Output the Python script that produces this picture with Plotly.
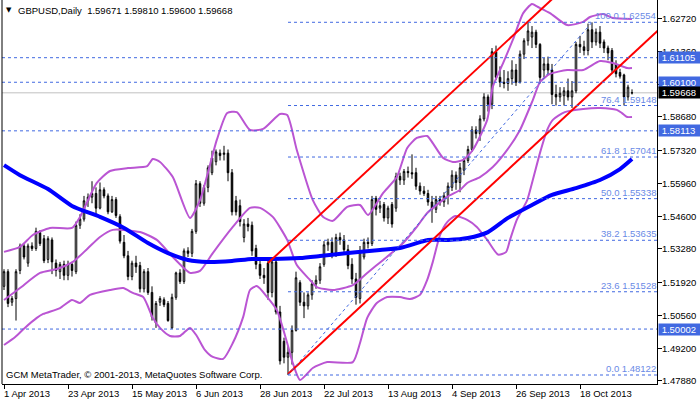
import plotly.graph_objects as go

# ---------------- data ----------------
open_ = [1.5175,1.5235,1.5110,1.5125,1.5240,1.5340,1.5270,1.5340,1.5330,1.5395,
         1.5370,1.5285,1.5365,1.5270,1.5235,1.5265,1.5220,1.5265,1.5235,1.5425,
         1.5450,1.5525,1.5540,1.5555,1.5495,1.5570,1.5545,1.5480,1.5530,1.5460,
         1.5355,1.5300,1.5215,1.5270,1.5260,1.5165,1.5235,1.5150,1.5025,1.5110,
         1.5120,1.5105,1.5005,1.5130,1.5230,1.5195,1.5320,1.5310,1.5400,1.5595,
         1.5515,1.5580,1.5640,1.5685,1.5720,1.5715,1.5720,1.5640,1.5525,1.5505,
         1.5375,1.5430,1.5425,1.5330,1.5265,1.5220,1.5270,1.5150,1.5275,1.5070,
         1.4950,1.4885,1.4905,1.4995,1.5190,1.5110,1.5095,1.5140,1.5185,1.5200,
         1.5265,1.5345,1.5355,1.5310,1.5375,1.5365,1.5325,1.5265,1.5205,1.5125,
         1.5295,1.5355,1.5350,1.5535,1.5495,1.5510,1.5455,1.5510,1.5495,1.5625,
         1.5610,1.5645,1.5640,1.5640,1.5585,1.5565,1.5555,1.5520,1.5490,1.5530,
         1.5520,1.5545,1.5580,1.5630,1.5600,1.5650,1.5690,1.5735,1.5815,1.5800,
         1.5860,1.5950,1.5920,1.6135,1.6030,1.6010,1.6005,1.6025,1.6060,1.6010,
         1.6125,1.6180,1.6195,1.6215,1.6165,1.6060,1.6085,1.6060,1.5960,1.5950,
         1.5955,1.5975,1.5950,1.5975,1.6165,1.6155,1.6140,1.6225,1.6175,1.6215,
         1.6175,1.6150,1.6140,1.6085,1.6050,1.6040,1.5950,1.59671]
high = [1.5245,1.5245,1.5135,1.5245,1.5350,1.5350,1.5350,1.5355,1.5415,1.5405,
        1.5385,1.5380,1.5375,1.5285,1.5275,1.5280,1.5280,1.5275,1.5440,1.5470,
        1.5545,1.5555,1.5605,1.5580,1.5600,1.5580,1.5555,1.5545,1.5540,1.5470,
        1.5385,1.5320,1.5280,1.5300,1.5275,1.5245,1.5250,1.5175,1.5115,1.5135,
        1.5130,1.5115,1.5145,1.5235,1.5245,1.5330,1.5335,1.5410,1.5610,1.5605,
        1.5590,1.5670,1.5730,1.5735,1.5735,1.5750,1.5735,1.5655,1.5545,1.5530,
        1.5450,1.5455,1.5440,1.5345,1.5285,1.5250,1.5285,1.5290,1.5295,1.5095,
        1.4965,1.4930,1.5015,1.5235,1.5200,1.5150,1.5150,1.5200,1.5220,1.5270,
        1.5360,1.5370,1.5375,1.5390,1.5395,1.5385,1.5345,1.5290,1.5230,1.5340,
        1.5370,1.5375,1.5545,1.5545,1.5525,1.5520,1.5505,1.5520,1.5640,1.5640,
        1.5655,1.5665,1.5715,1.5660,1.5600,1.5585,1.5570,1.5545,1.5545,1.5545,
        1.5560,1.5600,1.5650,1.5645,1.5680,1.5700,1.5750,1.5830,1.5830,1.5875,
        1.5965,1.5960,1.6150,1.6160,1.6075,1.6060,1.6055,1.6100,1.6085,1.6140,
        1.6190,1.6260,1.6240,1.6225,1.6170,1.6110,1.6115,1.6085,1.6000,1.5990,
        1.5990,1.6025,1.6015,1.6175,1.6200,1.6180,1.6250,1.6255,1.6230,1.6240,
        1.6185,1.6160,1.6150,1.6100,1.6065,1.6045,1.6000,1.59810]
low = [1.5160,1.5090,1.5095,1.5035,1.5225,1.5285,1.5255,1.5320,1.5320,1.5340,
       1.5270,1.5270,1.5225,1.5215,1.5205,1.5200,1.5200,1.5215,1.5225,1.5410,
       1.5440,1.5500,1.5515,1.5470,1.5490,1.5535,1.5470,1.5475,1.5455,1.5350,
       1.5290,1.5200,1.5200,1.5230,1.5150,1.5150,1.5140,1.5035,1.5005,1.5095,
       1.5090,1.5030,1.5000,1.5120,1.5185,1.5185,1.5295,1.5295,1.5390,1.5500,
       1.5505,1.5560,1.5630,1.5670,1.5690,1.5690,1.5605,1.5465,1.5465,1.5420,
       1.5355,1.5400,1.5300,1.5245,1.5205,1.5185,1.5120,1.5130,1.5060,1.4855,
       1.4860,1.4812,1.4855,1.4990,1.5095,1.5045,1.5080,1.5120,1.5165,1.5185,
       1.5255,1.5320,1.5290,1.5295,1.5345,1.5310,1.5245,1.5185,1.5100,1.5105,
       1.5285,1.5330,1.5340,1.5465,1.5475,1.5440,1.5430,1.5415,1.5480,1.5590,
       1.5590,1.5620,1.5615,1.5570,1.5550,1.5545,1.5505,1.5435,1.5475,1.5505,
       1.5500,1.5510,1.5565,1.5570,1.5560,1.5630,1.5680,1.5725,1.5780,1.5770,
       1.5850,1.5890,1.5900,1.6020,1.5990,1.5985,1.5975,1.6000,1.5995,1.6005,
       1.6105,1.6160,1.6150,1.6150,1.6005,1.6030,1.6040,1.5920,1.5915,1.5930,
       1.5915,1.5935,1.5905,1.5965,1.6130,1.6120,1.6120,1.6150,1.6160,1.6150,
       1.6130,1.6100,1.6050,1.6030,1.6025,1.5915,1.5935,1.59600]
close = [1.5235,1.5105,1.5125,1.5235,1.5340,1.5295,1.5340,1.5330,1.5400,1.5350,
         1.5280,1.5370,1.5275,1.5240,1.5265,1.5220,1.5265,1.5240,1.5425,1.5450,
         1.5525,1.5540,1.5555,1.5495,1.5570,1.5545,1.5480,1.5530,1.5465,1.5360,
         1.5300,1.5215,1.5270,1.5255,1.5165,1.5235,1.5150,1.5050,1.5105,1.5125,
         1.5100,1.5035,1.5130,1.5230,1.5195,1.5320,1.5310,1.5400,1.5595,1.5515,
         1.5580,1.5660,1.5700,1.5725,1.5710,1.5720,1.5640,1.5480,1.5480,1.5440,
         1.5430,1.5420,1.5320,1.5265,1.5220,1.5210,1.5150,1.5275,1.5070,1.4870,
         1.4885,1.4905,1.4995,1.5210,1.5110,1.5095,1.5140,1.5185,1.5200,1.5255,
         1.5345,1.5355,1.5310,1.5375,1.5365,1.5325,1.5260,1.5205,1.5130,1.5320,
         1.5355,1.5350,1.5530,1.5490,1.5505,1.5455,1.5495,1.5430,1.5625,1.5610,
         1.5645,1.5640,1.5635,1.5585,1.5565,1.5555,1.5520,1.5490,1.5530,1.5520,
         1.5545,1.5585,1.5630,1.5600,1.5660,1.5690,1.5735,1.5815,1.5800,1.5860,
         1.5950,1.5920,1.6135,1.6030,1.6010,1.6005,1.6025,1.6060,1.6010,1.6125,
         1.6180,1.6220,1.6215,1.6165,1.6030,1.6085,1.6060,1.5960,1.5950,1.5965,
         1.5975,1.5950,1.5975,1.6165,1.6155,1.6140,1.6225,1.6175,1.6215,1.6170,
         1.6150,1.6130,1.6060,1.6045,1.6035,1.5950,1.5990,1.59668]

date_labels = ["1 Apr 2013", "23 Apr 2013", "15 May 2013", "6 Jun 2013", "28 Jun 2013",
               "22 Jul 2013", "13 Aug 2013", "4 Sep 2013", "26 Sep 2013", "18 Oct 2013"]
price_ticks = [1.62720, 1.61360, 1.60000, 1.58680, 1.57320, 1.55960, 1.54600,
               1.53280, 1.51920, 1.50560, 1.49200, 1.47880]

# moving average (blue)
ma_bars = [0, 4, 11, 17, 24, 30, 36, 41, 46, 51, 57, 62, 67, 74, 79, 86, 94, 99, 104,
           106, 111, 116, 121, 126, 132, 137, 143, 149, 154, 157]
ma_vals = [1.5671, 1.5630, 1.5573, 1.5504, 1.5459, 1.5414, 1.5352, 1.5311, 1.5283, 1.5275,
           1.5279, 1.5287, 1.5287, 1.5291, 1.5299, 1.5311, 1.5324, 1.5332, 1.5356,
           1.5365, 1.5365, 1.5373, 1.5397, 1.5455, 1.5508, 1.5549, 1.5577, 1.5610, 1.5655, 1.5696]

# Bollinger bands (purple)
bbu_bars = [0, 4, 7.2, 11.5, 17, 19, 23.2, 26.5, 31, 35.8, 37.2, 39, 42.2, 46.5, 49, 53.2,
            55.8, 58.2, 61.5, 64.8, 69, 70.8, 73.2, 77.2, 79.8, 82.2, 85.8, 89, 91, 94.8,
            98.2, 100.8, 103.2, 105.8, 107.2, 109.8, 112.2, 114.8, 117.2, 120.8, 122.2,
            124.8, 127.2, 129.8, 132, 133.5, 136.5, 140.8, 144.8, 146.5, 149.8, 152.2, 157]
bbu_vals = [1.5316, 1.5336, 1.5385, 1.5414, 1.5414, 1.5459, 1.5598, 1.5647, 1.5659, 1.5667,
            1.5696, 1.5684, 1.5622, 1.5455, 1.5528, 1.5774, 1.5884, 1.5888, 1.5815, 1.5819,
            1.5880, 1.5876, 1.5733, 1.5528, 1.5459, 1.5443, 1.5500, 1.5508, 1.5467, 1.5557,
            1.5622, 1.5741, 1.5782, 1.5790, 1.5761, 1.5700, 1.5684, 1.5692, 1.5733, 1.5856,
            1.5991, 1.6089, 1.6183, 1.6293, 1.6330, 1.6318, 1.6293, 1.6244, 1.6257, 1.6277,
            1.6289, 1.6273, 1.6269]
bbm_bars = [0, 4, 9, 13.2, 17.2, 20.8, 24, 27.2, 34, 38.2, 42.2, 46.5, 49, 52.2, 57.2,
            61.5, 64, 67.2, 70.8, 73.2, 76.5, 78.2, 82.2, 87.2, 90.8, 94.8, 99.8, 103.2,
            105.8, 110.8, 114, 115.8, 119, 122.2, 125.8, 129, 132.2, 134, 136.5, 140.8,
            144.8, 149, 152.2, 155.8, 157]
bbm_vals = [1.5119, 1.5168, 1.5230, 1.5246, 1.5275, 1.5328, 1.5377, 1.5406, 1.5397, 1.5365,
            1.5295, 1.5230, 1.5238, 1.5311, 1.5418, 1.5496, 1.5496, 1.5459, 1.5365, 1.5262,
            1.5201, 1.5172, 1.5160, 1.5180, 1.5230, 1.5283, 1.5352, 1.5418, 1.5475, 1.5541,
            1.5569, 1.5598, 1.5622, 1.5663, 1.5733, 1.5815, 1.5937, 1.6011, 1.6044, 1.6060,
            1.6060, 1.6097, 1.6089, 1.6068, 1.6068]
bbl_bars = [0, 2.8, 5.2, 8.2, 9.8, 14, 17, 19, 21.5, 26.5, 29.8, 32.2, 34.8, 37.2, 39,
            41.5, 44, 46.5, 48.2, 50.2, 52.2, 54.8, 57.2, 59.8, 61.5, 63.2, 65.8, 68.2,
            70.8, 72.2, 74, 77.2, 80.8, 87.2, 89, 90.8, 93.2, 95.8, 99, 101.5, 104, 105.8,
            107.2, 109, 110.8, 112.8, 115.8, 118.2, 120.8, 123.5, 125.5, 126.5, 128.2,
            130.8, 132.2, 134, 135.8, 137.2, 140.2, 144.8, 149, 153.2, 154.5, 155.8, 157]
bbl_vals = [1.4935, 1.4968, 1.5005, 1.5046, 1.5062, 1.5086, 1.5119, 1.5107, 1.5140, 1.5160,
            1.5168, 1.5148, 1.5131, 1.5046, 1.5005, 1.4972, 1.4972, 1.5005, 1.4972, 1.4915,
            1.4886, 1.4878, 1.4943, 1.5050, 1.5160, 1.5176, 1.5131, 1.5078, 1.4943, 1.4861,
            1.4792, 1.4841, 1.4865, 1.4865, 1.4943, 1.5046, 1.5107, 1.5131, 1.5131, 1.5123,
            1.5140, 1.5201, 1.5275, 1.5385, 1.5438, 1.5463, 1.5447, 1.5418, 1.5365, 1.5305,
            1.5315, 1.5365, 1.5447, 1.5528, 1.5610, 1.5721, 1.5815, 1.5856, 1.5888, 1.5901,
            1.5905, 1.5897, 1.5884, 1.5868, 1.5868]

# equidistant channel (red), two read points per line
chan_up_bars = [66, 140]
chan_up_vals = [1.52705, 1.63953]
chan_lo_bars = [71, 170]
chan_lo_vals = [1.48163, 1.63211]

# horizontal levels
hlines = [1.61105, 1.60100, 1.58113, 1.50002]
bid = 1.59668

# Fibonacci retracement
fib_low, fib_high = 1.48122, 1.62554
fib_low_bar, fib_high_bar = 71, 147
fib_ratios = [0.0, 23.6, 38.2, 50.0, 61.8, 76.4, 100.0]

header = "GBPUSD,Daily\u00a0\u00a01.59671 1.59810 1.59600 1.59668"
copyright_txt = "GCM MetaTrader, \u00a9 2001-2013, MetaQuotes Software Corp."

# ---------------- figure ----------------
FONT = "Liberation Sans, Arial, sans-serif"
ROYAL = "#4169E1"
FIBTXT = "#6A8AE6"
ORCHID = "#BA55D3"

bars = list(range(len(close)))
x_lo, x_hi = -0.5, 163.25
y_lo, y_hi = 1.47754, 1.63466
plot_w = 700 - 2 - 43


def px_to_paper(px):
    return (px - 2) / plot_w


fig = go.Figure()

fig.add_trace(go.Candlestick(
    x=bars, open=open_, high=high, low=low, close=close,
    increasing=dict(fillcolor="white", line=dict(color="black", width=1)),
    decreasing=dict(fillcolor="black", line=dict(color="black", width=1)),
    whiskerwidth=0, hoverinfo="skip", showlegend=False))

for bx, by in [(bbu_bars, bbu_vals), (bbm_bars, bbm_vals), (bbl_bars, bbl_vals)]:
    fig.add_trace(go.Scatter(x=bx, y=by, mode="lines",
                             line=dict(color=ORCHID, width=2, shape="spline", smoothing=0.6),
                             hoverinfo="skip", showlegend=False))

fig.add_trace(go.Scatter(x=ma_bars, y=ma_vals, mode="lines",
                         line=dict(color="#0000FF", width=4, shape="spline", smoothing=0.6),
                         hoverinfo="skip", showlegend=False))

for bx, by in [(chan_up_bars, chan_up_vals), (chan_lo_bars, chan_lo_vals)]:
    fig.add_trace(go.Scatter(x=bx, y=by, mode="lines", line=dict(color="#FF0000", width=2),
                             hoverinfo="skip", showlegend=False))

# fib diagonal
fig.add_trace(go.Scatter(x=[fib_low_bar, fib_high_bar], y=[fib_low, fib_high], mode="lines",
                         line=dict(color=ROYAL, width=1, dash="dot"),
                         hoverinfo="skip", showlegend=False))

shapes = []
annotations = []

# bid line
shapes.append(dict(type="line", xref="paper", yref="y", x0=0, x1=1, y0=bid, y1=bid,
                   line=dict(color="#C0C0C0", width=1), layer="below"))
# horizontal dashed levels
for lv in hlines:
    shapes.append(dict(type="line", xref="paper", yref="y", x0=0, x1=1, y0=lv, y1=lv,
                       line=dict(color=ROYAL, width=1, dash="3px,3px")))
# fib levels
for r in fib_ratios:
    lv = fib_low + r / 100.0 * (fib_high - fib_low)
    shapes.append(dict(type="line", xref="x", yref="y", x0=fib_low_bar, x1=x_hi, y0=lv, y1=lv,
                       line=dict(color=ROYAL, width=1, dash="3px,3px")))
    annotations.append(dict(xref="paper", yref="y", x=1, y=lv, xanchor="right", yanchor="bottom",
                            text=f"{r:.1f} {lv:.5f}", showarrow=False, borderpad=0,
                            font=dict(family=FONT, size=9.5, color=FIBTXT)))

# left frame line
shapes.append(dict(type="line", xref="paper", yref="paper", x0=0, x1=0, y0=0, y1=1,
                   line=dict(color="black", width=1)))

# price scale labels (left aligned like the terminal)
for v in price_ticks:
    annotations.append(dict(xref="paper", yref="y", x=px_to_paper(661), y=v, xanchor="left",
                            yanchor="middle", text=f"{v:.5f}", showarrow=False, borderpad=0,
                            font=dict(family=FONT, size=9.5, color="black")))

# price boxes on the axis (drawn after the scale labels so they cover them)
for lv, bg in [(1.61105, ROYAL), (1.60100, ROYAL), (1.58113, ROYAL), (1.50002, ROYAL), (bid, "black")]:
    annotations.append(dict(xref="paper", yref="y", x=px_to_paper(658), y=lv, xanchor="left",
                            yanchor="middle", text="\u00a0" + f"{lv:.5f}", showarrow=False,
                            borderpad=0, width=42, height=11, align="left", valign="middle",
                            bgcolor=bg, font=dict(family=FONT, size=9.5, color="white")))

# date labels (left aligned at tick)
for k, lab in enumerate(date_labels):
    annotations.append(dict(xref="x", yref="paper", x=16 * k, y=0, xanchor="left", yanchor="top",
                            yshift=-3, xshift=-1, text=lab, showarrow=False, borderpad=0,
                            font=dict(family=FONT, size=9.5, color="black")))

# header
annotations.append(dict(xref="paper", yref="paper", x=px_to_paper(5), y=1, xanchor="left",
                        yanchor="top", yshift=-5, text="\u25BC", showarrow=False, borderpad=0,
                        font=dict(family="DejaVu Sans", size=7, color="black")))
annotations.append(dict(xref="paper", yref="paper", x=px_to_paper(17), y=1, xanchor="left",
                        yanchor="top", yshift=-4, text=header, showarrow=False, borderpad=0,
                        font=dict(family=FONT, size=9.5, color="black")))
annotations.append(dict(xref="paper", yref="paper", x=px_to_paper(5), y=0, xanchor="left",
                        yanchor="bottom", yshift=3, text=copyright_txt, showarrow=False, borderpad=0,
                        font=dict(family=FONT, size=9.5, color="black")))

fig.update_layout(
    width=700, height=402,
    margin=dict(l=2, r=43, t=0, b=18),
    paper_bgcolor="white", plot_bgcolor="white",
    showlegend=False, boxgap=0.45,
    shapes=shapes, annotations=annotations,
    xaxis=dict(range=[x_lo, x_hi], showgrid=False, zeroline=False, showline=True,
               linecolor="black", linewidth=1, ticks="outside", ticklen=4, tickcolor="black",
               tickvals=[16 * k for k in range(len(date_labels))],
               ticktext=["" for _ in date_labels], rangeslider=dict(visible=False),
               fixedrange=True, automargin=False),
    yaxis=dict(range=[y_lo, y_hi], side="right", showgrid=False, zeroline=False,
               showline=True, linecolor="black", linewidth=1, ticks="outside", ticklen=4,
               tickcolor="black", tickvals=price_ticks, showticklabels=False,
               fixedrange=True, automargin=False),
)

fig.write_html("out.html", config={"displayModeBar": False},
               post_script="document.body.style.margin='0';document.body.style.overflow='hidden';")
